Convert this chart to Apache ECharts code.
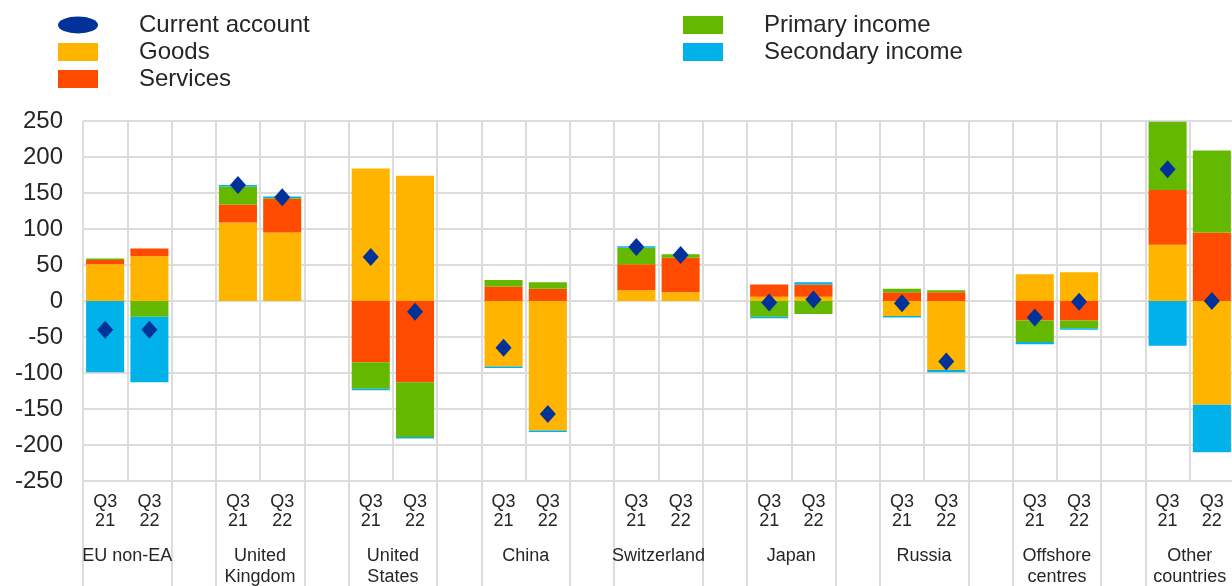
<!DOCTYPE html>
<html>
<head>
<meta charset="utf-8">
<script src="https://cdn.jsdelivr.net/npm/echarts@6/dist/echarts.min.js"></script>
<style>
  html, body { margin: 0; padding: 0; background: #fff; }
  #chart { width: 1232px; height: 586px; }
</style>
</head>
<body>
<div id="chart"></div>
<script>
// 国家/地区分组，每组两个季度
const groups = ['EU non-EA', 'United\nKingdom', 'United\nStates', 'China', 'Switzerland',
  'Japan', 'Russia', 'Offshore\ncentres', 'Other\ncountries']
const periods = ['Q3\n21', 'Q3\n22']

// 每组 [Q3 21, Q3 22]
const goods = [51, 62, 109, 95, 184, 174, -91, -180, 15, 12, 6, 6, -21, -96, 37, 40, 78, -144]
const services = [6, 11, 25, 47, -85, -113, 20, 17, 36, 48, 17, 17, 12, 12, -27, -27, 76, 95]
const primaryIncome = [2, -22, 25, 1, -37, -76, 9, 9, 23, 5, -22, -18, 5, 3, -30, -11, 95, 114]
const secondaryIncome = [-99, -91, 2, 2, -2, -2, -2, -2, 2, 0, -2, 3, -2, -3, -3, -2, -62, -66]
const currentAccount = [-40, -40, 161, 144, 61, -15, -65, -157, 75, 64, -2, 2, -3, -84, -23, -1, 183, 0]

const textColor = '#262626'
const gridColor = '#dcdcdc'
const font = 'Liberation Sans, Arial, sans-serif'

// 组与组之间插入空位
function withGaps(arr, gapValue) {
  const out = []
  for (let g = 0; g < groups.length; g++) {
    out.push(arr[g * 2], arr[g * 2 + 1])
    if (g < groups.length - 1) out.push(gapValue)
  }
  return out
}
const slotPeriods = []
groups.forEach((g, i) => {
  slotPeriods.push(periods[0], periods[1])
  if (i < groups.length - 1) slotPeriods.push('')
})
// 第二个坐标轴：每个边界一个位置，组名放在两根柱子中间
const groupAxis = []
for (let i = 0; i <= slotPeriods.length; i++) {
  groupAxis.push(i % 3 === 1 ? groups[(i - 1) / 3] : '')
}

function barSeries(name, color, data) {
  return {
    name: name,
    type: 'bar',
    stack: 'ca',
    barWidth: '86%',
    itemStyle: { color: color },
    data: withGaps(data, null)
  }
}

const legendText = { fontSize: 24, lineHeight: 24, color: textColor, padding: [0, 0, 0, 36] }

const chart = echarts.init(document.getElementById('chart'))
chart.setOption({
  animation: false,
  textStyle: { fontFamily: font },
  legend: [
    {
      left: 58, top: 13, padding: 0, orient: 'vertical',
      itemWidth: 40, itemHeight: 18, itemGap: 3,
      textStyle: legendText,
      data: [
        { name: 'Current account', icon: 'path://M0,8.5a20,8.5 0 1,0 40,0a20,8.5 0 1,0 -40,0z' },
        { name: 'Goods', icon: 'rect' },
        { name: 'Services', icon: 'rect' }
      ]
    },
    {
      left: 683, top: 13, padding: 0, orient: 'vertical',
      itemWidth: 40, itemHeight: 18, itemGap: 3,
      textStyle: legendText,
      data: [
        { name: 'Primary income', icon: 'rect' },
        { name: 'Secondary income', icon: 'rect' }
      ]
    }
  ],
  grid: { left: 83, right: -2, top: 121, bottom: 105, outerBoundsMode: 'none' },
  xAxis: [
    {
      type: 'category',
      data: slotPeriods,
      axisLine: { onZero: false, lineStyle: { color: gridColor, width: 2 } },
      axisTick: { show: false },
      axisLabel: { interval: 0, fontSize: 18, lineHeight: 19, color: textColor, margin: 12 },
      splitLine: { show: true, interval: 0, lineStyle: { color: gridColor, width: 2 } }
    },
    {
      type: 'category',
      position: 'bottom',
      offset: 0,
      boundaryGap: false,
      data: groupAxis,
      axisLine: { show: false, onZero: false },
      axisTick: {
        show: true, length: 110, inside: false,
        interval: (index) => index % 3 !== 1,
        lineStyle: { color: gridColor, width: 2 }
      },
      axisLabel: { interval: 0, fontSize: 18, lineHeight: 21, color: textColor, margin: 65 },
      splitLine: { show: false }
    }
  ],
  yAxis: {
    type: 'value',
    min: -250,
    max: 250,
    interval: 50,
    axisLine: { show: false },
    axisTick: { show: false },
    axisLabel: { fontSize: 24, color: textColor, margin: 20 },
    splitLine: { lineStyle: { color: gridColor, width: 2 } }
  },
  series: [
    barSeries('Goods', '#FFB400', goods),
    barSeries('Services', '#FF4B00', services),
    barSeries('Primary income', '#65B800', primaryIncome),
    barSeries('Secondary income', '#00B1EA', secondaryIncome),
    {
      name: 'Current account',
      type: 'scatter',
      symbol: 'diamond',
      symbolSize: [16, 18],
      itemStyle: { color: '#003299', opacity: 1 },
      z: 5,
      data: withGaps(currentAccount, null)
    }
  ]
})
</script>
</body>
</html>
